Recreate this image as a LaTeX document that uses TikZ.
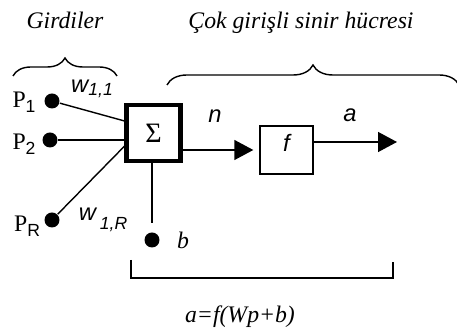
\documentclass[tikz,border=0pt]{standalone}
\usepackage{fontspec}
\setmainfont{Liberation Serif}
\setsansfont{Liberation Sans}
\usetikzlibrary{arrows.meta,decorations.pathreplacing,calc}

\begin{document}
\begin{tikzpicture}[x=0.02cm, y=-0.02cm, line width=0.8pt,
	dot/.style={circle, fill, inner sep=0pt, minimum size=0.3cm},
	lbl/.style={font=\fontsize{13.5}{16}\selectfont\itshape},
	sflbl/.style={font=\fontsize{13.5}{16}\selectfont\sffamily\itshape},
	plbl/.style={font=\fontsize{13.5}{16}\selectfont},
	brc/.style={decorate, decoration={brace, amplitude=#1}},
	arr/.style={-{Triangle[length=0.38cm, width=0.4cm]}}]
	\useasboundingbox (0,0) rectangle (457,333);
	\node (txt1) [lbl] at (65,20) {Girdiler};
	\node (txt2) [lbl] at (301,23) {Çok girişli sinir hücresi};
	\node (box1) [draw, rectangle, line width=2.4pt, minimum width=1.08cm, minimum height=1.12cm, font=\fontsize{16}{18}\selectfont] at (153.5,133) {Σ};
	\node (box2) [draw, rectangle, minimum width=1.06cm, minimum height=0.96cm, sflbl, text depth=8.6pt] at (286.5,150) {f};
	\node (dot1) [dot] at (52,101) {};
	\node (dot2) [dot] at (50,140) {};
	\node (dot3) [dot] at (52,220) {};
	\node (dot4) [dot] at (152,240) {};
	\node (p1) [plbl] at (24,102) {P\raisebox{-0.5ex}{\fontsize{10}{12}\selectfont\sffamily 1}};
	\node (p2) [plbl] at (24,144) {P\raisebox{-0.5ex}{\fontsize{10}{12}\selectfont\sffamily 2}};
	\node (p3) [plbl] at (27,226) {P\raisebox{-0.5ex}{\fontsize{10}{12}\selectfont\sffamily R}};
	\node (w1) [sflbl] at (92,89) {w\raisebox{-0.2ex}{\fontsize{10}{12}\selectfont 1,1}};
	\node (w2) [sflbl] at (103,220) {w\,\raisebox{-5pt}{\fontsize{10}{12}\selectfont 1,R}};
	\node (b) [lbl] at (183,240) {b};
	\node (n) [sflbl] at (215,116) {n};
	\node (a) [sflbl] at (350,115) {a};
	\node (eq) [lbl] at (240,317) {a=f(Wp+b)};
	\coordinate (out) at (397,142);

	% Braces
	\draw[brc=0.36cm] (13,76) -- (117,76);
	\draw[brc=0.4cm] (167,85) -- (459,85);
	\draw (131,260) -- (131,278) -- (393,278) -- (393,262);

	% Arrows
	\draw (dot1) -- ($(box1.north west)!0.3!(box1.south west)$);
	\draw (dot2) -- (box1.west |- dot2);
	\draw (dot3) -- ($(box1.north west)!0.72!(box1.south west)$);
	\draw[shorten >=0.18cm] (box1.south -| dot4) -- (dot4);
	\draw[arr, shorten >=0.12cm] (box1.east |- box2) -- (box2.west);
	\draw[arr] (box2.east |- out) -- (out);
\end{tikzpicture}
\end{document}
